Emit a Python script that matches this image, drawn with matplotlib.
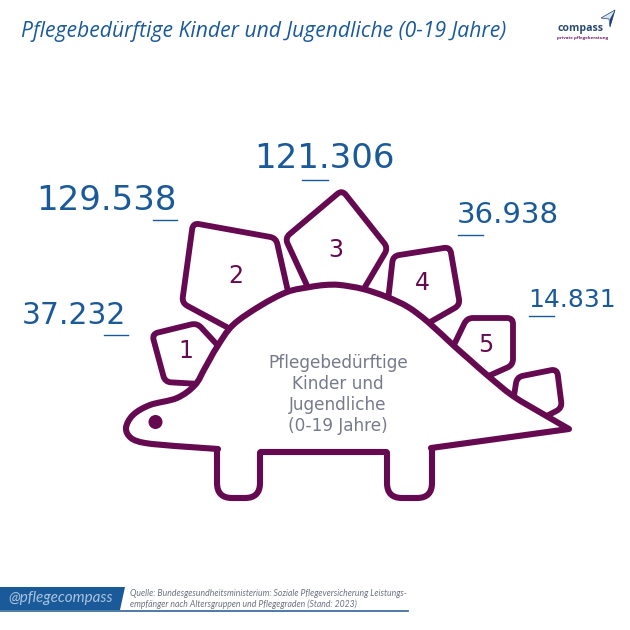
import matplotlib
matplotlib.use("Agg")
import matplotlib.pyplot as plt
from matplotlib.path import Path
from matplotlib.patches import PathPatch, Polygon, Circle
import numpy as np

# values per care level
grades = ["1", "2", "3", "4", "5"]
values = ["37.232", "129.538", "121.306", "36.938", "14.831"]

title = "Pflegebedürftige Kinder und Jugendliche (0-19 Jahre)"
center_lines = ["Pflegebedürftige", "Kinder und", "Jugendliche", "(0-19 Jahre)"]
source_lines = ["Quelle: Bundesgesundheitsministerium: Soziale Pflegeversicherung Leistungs-",
                "empfänger nach Altersgruppen und Pflegegraden (Stand: 2023)"]

PURPLE = "#650A50"
BLUE = "#1B5A99"
GREY = "#777A8C"

# positions in picture pixels
value_x = [22, 36, 254, 457, 528]
value_y = [316, 200, 158, 215, 300]
value_size = [21.5, 24.5, 24.5, 21, 18]
line_x = [(104, 128), (153, 177), (302, 328), (458, 483), (529, 554)]
line_y = [335, 220, 180, 235, 316]
grade_x = [186, 236, 336, 422, 486]
grade_y = [351, 276, 250, 283, 345]

# back of the animal from tail tip to chin, smooth
back = [(569, 429), (543, 414), (513, 396), (487, 375), (470, 360), (453, 345), (428, 322),
        (408, 307), (387, 297), (363, 289), (340, 285), (325, 285), (310, 287), (287, 292),
        (260, 306), (233, 325), (217, 347), (205, 368), (195, 385), (177, 398), (150, 405),
        (133, 415), (126, 428), (131, 438), (145, 443), (175, 446)]
# belly and legs, straight with rounded corners
belly = [(217, 449), (217, 498), (260, 498), (260, 452), (387, 452), (387, 498), (432, 498), (432, 448)]
belly_round = [1, 15, 15, 1, 1, 15, 15, 1]

plates = [
    [(222, 350), (197, 323), (152, 334), (165, 382), (200, 384)],
    [(289, 296), (276, 238), (193, 223), (182, 303), (234, 331)],
    [(362, 292), (388, 248), (342, 190), (285, 238), (310, 292)],
    [(388, 301), (393, 256), (450, 247), (460, 305), (425, 325)],
    [(452, 349), (467, 318), (513, 318), (513, 365), (484, 378)],
    [(513, 402), (517, 377), (557, 369), (562, 408), (541, 419)],
]
plate_round = [0.5, 6, 6, 6, 0.5]


def smooth_segments(pts):
    # catmull-rom through the points, as bezier pieces
    pts = [np.array(p, float) for p in pts]
    verts, codes = [], []
    for i in range(len(pts) - 1):
        p0 = pts[max(i - 1, 0)]
        p1 = pts[i]
        p2 = pts[i + 1]
        p3 = pts[min(i + 2, len(pts) - 1)]
        verts += [p1 + (p2 - p0) / 6, p2 - (p3 - p1) / 6, p2]
        codes += [Path.CURVE4] * 3
    return verts, codes


def corner_segments(pts, radii):
    # open chain with quadratic corners, entered by a line
    verts, codes = [], []
    pts = [np.array(p, float) for p in pts]
    for i, p in enumerate(pts):
        a = pts[i - 1]
        b = pts[(i + 1) % len(pts)]
        r = min(radii[i], np.linalg.norm(a - p) / 2, np.linalg.norm(b - p) / 2)
        verts.append(p + (a - p) / np.linalg.norm(a - p) * r)
        codes.append(Path.LINETO)
        verts += [p, p + (b - p) / np.linalg.norm(b - p) * r]
        codes += [Path.CURVE3, Path.CURVE3]
    return verts, codes


def body_path():
    v1, c1 = smooth_segments(back)
    v2, c2 = corner_segments(belly, belly_round)
    verts = [np.array(back[0], float)] + v1 + v2 + [np.array(back[0], float), np.array(back[0], float)]
    codes = [Path.MOVETO] + c1 + c2 + [Path.LINETO, Path.CLOSEPOLY]
    return Path(verts, codes)


def plate_path(pts):
    v, c = corner_segments(pts, plate_round)
    c[0] = Path.MOVETO
    return Path(v + [v[0]], c + [Path.CLOSEPOLY])


fig = plt.figure(figsize=(6.3, 6.3), dpi=100)
ax = fig.add_axes([0, 0, 1, 1])
ax.set_xlim(0, 630)
ax.set_ylim(630, 0)
ax.axis("off")

ax.text(21, 31, title, color=BLUE, fontsize=15.2, style="italic", family="Open Sans", va="center")

# logo
ax.text(557, 28, "compass", color="#2C4A73", fontsize=7.6, weight="bold", family="Open Sans", va="center")
ax.text(557, 38.5, "private pflegeberatung", color="#7A1A6A", fontsize=3.2, weight="bold", family="Open Sans", va="center")
ax.add_patch(Polygon([(615, 10), (601, 18), (609, 19), (610, 27)], fc="#DCE4EE", ec="#1B3F73", lw=0.5))
ax.add_patch(Polygon([(615, 10), (610, 19), (610, 27)], fc="#1B3F73", ec="none"))

# plates first, the body sits on top
for pts in plates:
    ax.add_patch(PathPatch(plate_path(pts), fc="white", ec=PURPLE, lw=4.2, joinstyle="round"))
ax.add_patch(PathPatch(body_path(), fc="white", ec=PURPLE, lw=4.4, joinstyle="round"))
ax.add_patch(Circle((155.5, 422), 7, fc=PURPLE, ec="none"))

for x, y, g in zip(grade_x, grade_y, grades):
    ax.text(x, y, g, color=PURPLE, fontsize=17, ha="center", va="center")

for x, y, v, s in zip(value_x, value_y, values, value_size):
    ax.text(x, y, v, color=BLUE, fontsize=s, ha="left", va="center")
for (x0, x1), y in zip(line_x, line_y):
    ax.plot([x0, x1], [y, y], color=BLUE, lw=1)

for y, t in zip([363, 384, 405, 426], center_lines):
    ax.text(338, y, t, color=GREY, fontsize=12.2, ha="center", va="center")

# footer band
ax.add_patch(Polygon([(0, 587), (125, 587), (120, 610), (0, 610)], fc=BLUE, ec="none"))
ax.plot([0, 408], [610.5, 610.5], color="#3F6F9F", lw=1.3)
ax.text(8, 598, "@pflegecompass", color="#A9C3E0", fontsize=11, style="italic", family="Lato", va="center")
ax.text(130, 593, source_lines[0], color="#6B7280", fontsize=6.2, style="italic", family="Lato", va="center")
ax.text(130, 604, source_lines[1], color="#6B7280", fontsize=6.2, style="italic", family="Lato", va="center")

fig.savefig("out.png", dpi=100)
